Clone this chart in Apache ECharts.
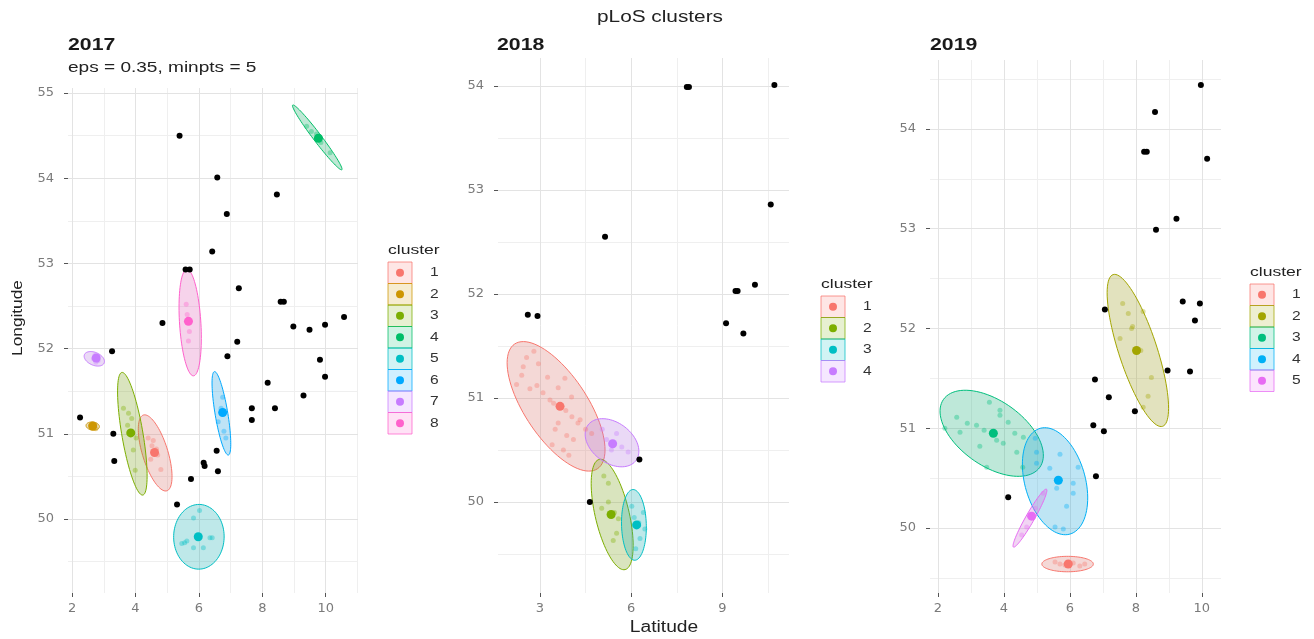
<!DOCTYPE html>
<html>
<head>
<meta charset="utf-8">
<title>pLoS clusters</title>
<script src="https://cdn.jsdelivr.net/npm/echarts@6/dist/echarts.min.js"></script>
<style>
  html, body { margin: 0; padding: 0; background: #ffffff; }
  #chart { width: 1314px; height: 639px; }
</style>
</head>
<body>
<div id="chart"></div>
<script>
// ---- data -------------------------------------------------------------
const years = ['2017', '2018', '2019'];
const subtitle2017 = 'eps = 0.35, minpts = 5';
const mainTitle = 'pLoS clusters';
const xTitle = 'Latitude';
const yTitle = 'Longitude';
const legendTitle = 'cluster';

const palette2017 = ['#F8766D', '#CD9600', '#7CAE00', '#00BE67', '#00BFC4', '#00A9FF', '#C77CFF', '#FF61CC'];
const palette2018 = ['#F8766D', '#7CAE00', '#00BFC4', '#C77CFF'];
const palette2019 = ['#F8766D', '#A3A500', '#00BF7D', '#00B0F6', '#E76BF3'];

const xTicks2017 = [2, 4, 6, 8, 10];
const yTicks2017 = [50, 51, 52, 53, 54, 55];
const xMinor2017 = [3, 5, 7, 9, 11];
const yMinor2017 = [49.5, 50.5, 51.5, 52.5, 53.5, 54.5];

const xTicks2018 = [3, 6, 9];
const yTicks2018 = [50, 51, 52, 53, 54];
const xMinor2018 = [4.5, 7.5, 10.5];
const yMinor2018 = [49.5, 50.5, 51.5, 52.5, 53.5];

const xTicks2019 = [2, 4, 6, 8, 10];
const yTicks2019 = [50, 51, 52, 53, 54];
const xMinor2019 = [3, 5, 7, 9];
const yMinor2019 = [49.5, 50.5, 51.5, 52.5, 53.5, 54.5];

// noise points [lat, lon]
const noise2017 = [
  [5.39, 54.50], [6.58, 54.01], [8.46, 53.81], [6.88, 53.58], [6.42, 53.14],
  [5.58, 52.93], [5.71, 52.93], [7.26, 52.71], [8.58, 52.55], [8.68, 52.55],
  [4.85, 52.30], [8.98, 52.26], [9.49, 52.22], [9.98, 52.28], [10.58, 52.37],
  [7.21, 52.08], [3.26, 51.97], [6.90, 51.91], [9.82, 51.87], [9.98, 51.67],
  [8.17, 51.60], [9.30, 51.45], [7.67, 51.30], [8.40, 51.30], [7.67, 51.16],
  [2.25, 51.19], [3.30, 51.00], [3.33, 50.68], [6.56, 50.80], [6.15, 50.66],
  [6.18, 50.62], [6.60, 50.56], [5.75, 50.47], [5.31, 50.17]
];
// cluster members [lat, lon, cluster]
const members2017 = [
  [4.56, 50.92, 1], [4.52, 50.86, 1], [4.70, 50.75, 1], [4.48, 50.70, 1], [4.80, 50.58, 1], [4.66, 50.82, 1], [4.40, 50.95, 1],
  [2.58, 51.10, 2], [2.68, 51.08, 2], [2.75, 51.06, 2], [2.62, 51.07, 2], [2.72, 51.11, 2],
  [3.62, 51.30, 3], [3.78, 51.24, 3], [3.88, 51.18, 3], [3.93, 50.81, 3], [3.99, 50.57, 3], [3.75, 51.10, 3], [4.02, 50.95, 3],
  [9.40, 54.61, 4], [9.71, 54.52, 4], [10.14, 54.30, 4], [9.55, 54.55, 4], [9.85, 54.42, 4],
  [6.02, 50.10, 5], [5.83, 50.01, 5], [5.46, 49.71, 5], [5.62, 49.74, 5], [5.83, 49.66, 5], [6.14, 49.66, 5], [6.35, 49.78, 5], [6.42, 49.78, 5], [5.55, 49.72, 5],
  [6.75, 51.43, 6], [6.61, 51.14, 6], [6.79, 51.03, 6], [6.70, 51.30, 6], [6.85, 50.95, 6],
  [2.72, 51.92, 7], [2.82, 51.86, 7], [2.68, 51.88, 7], [2.80, 51.90, 7], [2.75, 51.84, 7],
  [5.60, 52.52, 8], [5.67, 52.09, 8], [5.72, 52.32, 8], [5.63, 52.40, 8], [5.70, 52.20, 8]
];
// cluster centres [lat, lon, cluster]
const centers2017 = [
  [4.60, 50.78, 1], [2.65, 51.09, 2], [3.85, 51.01, 3], [9.77, 54.47, 4],
  [5.98, 49.79, 5], [6.75, 51.25, 6], [2.76, 51.89, 7], [5.67, 52.32, 8]
];
// ellipses [centre lat, centre lon, major-axis end lat, major-axis end lon, minor/major ratio, cluster]
const ellipses2017 = [
  [4.62, 50.775, 4.99, 50.33, 0.32, 1],
  [2.65, 51.09, 2.86, 51.08, 0.6, 2],
  [3.90, 51.00, 4.23, 50.28, 0.17, 3],
  [9.735, 54.48, 10.51, 54.10, 0.1, 4],
  [6.00, 49.79, 6.01, 50.17, 0.78, 5],
  [6.71, 51.24, 6.93, 50.75, 0.15, 6],
  [2.70, 51.88, 3.01, 51.83, 0.6, 7],
  [5.725, 52.305, 5.83, 51.68, 0.2, 8]
];

const noise2018 = [
  [7.83, 53.99], [7.90, 53.99], [10.71, 54.01], [10.59, 52.86], [5.14, 52.55],
  [9.43, 52.03], [9.50, 52.03], [10.07, 52.09], [2.60, 51.80], [2.92, 51.79],
  [9.12, 51.72], [9.69, 51.62], [6.27, 50.41], [4.64, 50.00]
];
const members2018 = [
  [2.23, 51.13, 1], [2.67, 51.09, 1], [3.82, 51.19, 1], [2.95, 51.33, 1], [2.56, 51.39, 1], [4.04, 51.01, 1],
  [3.60, 50.76, 1], [3.88, 50.64, 1], [3.77, 50.50, 1], [4.32, 50.79, 1], [3.33, 50.98, 1], [2.90, 51.12, 1],
  [3.10, 51.05, 1], [3.45, 50.95, 1], [3.85, 50.88, 1], [4.05, 50.82, 1], [4.25, 50.76, 1], [4.50, 50.70, 1],
  [4.70, 50.66, 1], [2.45, 51.30, 1], [3.50, 50.70, 1], [4.10, 50.60, 1], [3.25, 51.20, 1], [2.80, 51.45, 1],
  [3.95, 50.45, 1], [3.40, 50.55, 1], [2.40, 51.22, 1], [3.60, 51.10, 1],
  [5.25, 50.18, 2], [5.25, 50.00, 2], [5.03, 49.94, 2], [5.58, 49.84, 2], [5.52, 49.70, 2], [5.41, 49.63, 2], [5.10, 50.25, 2], [5.45, 49.90, 2],
  [6.02, 49.96, 3], [6.29, 49.65, 3], [6.45, 49.74, 3], [6.10, 49.85, 3], [6.25, 49.80, 3], [6.15, 49.55, 3], [6.40, 49.90, 3],
  [5.19, 50.60, 4], [5.69, 50.53, 4], [5.90, 50.48, 4], [5.52, 50.66, 4], [5.35, 50.50, 4], [5.05, 50.70, 4]
];
const centers2018 = [[3.66, 50.92, 1], [5.34, 49.88, 2], [6.18, 49.78, 3], [5.39, 50.56, 4]];
const ellipses2018 = [
  [3.53, 50.92, 4.89, 50.32, 0.42, 1],
  [5.375, 49.88, 5.80, 49.35, 0.3, 2],
  [6.09, 49.78, 6.12, 49.44, 0.35, 3],
  [5.37, 50.57, 6.16, 50.40, 0.68, 4]
];

const noise2019 = [
  [9.97, 54.44], [8.58, 54.17], [8.25, 53.77], [8.33, 53.77], [10.16, 53.70],
  [9.23, 53.10], [8.61, 52.99], [7.06, 52.19], [9.42, 52.27], [9.94, 52.25],
  [9.79, 52.08], [8.96, 51.58], [9.64, 51.57], [6.76, 51.49], [7.18, 51.31],
  [7.97, 51.17], [6.71, 51.03], [7.03, 50.97], [6.79, 50.52], [4.13, 50.31]
];
const members2019 = [
  [5.70, 49.64, 1], [6.30, 49.62, 1], [5.55, 49.66, 1], [6.10, 49.65, 1], [5.85, 49.63, 1], [6.45, 49.64, 1],
  [7.77, 52.15, 2], [8.22, 52.17, 2], [7.87, 52.00, 2], [7.52, 51.90, 2], [8.47, 51.51, 2],
  [8.37, 51.32, 2], [8.22, 51.21, 2], [7.90, 52.02, 2], [8.15, 51.78, 2], [7.60, 52.25, 2],
  [2.57, 51.11, 3], [2.89, 51.05, 3], [3.17, 51.03, 3], [2.67, 50.96, 3], [3.56, 51.26, 3], [3.88, 51.18, 3],
  [4.13, 51.06, 3], [4.33, 50.95, 3], [3.98, 50.85, 3], [3.78, 50.88, 3], [4.39, 50.76, 3], [3.27, 50.82, 3],
  [3.48, 50.61, 3], [4.57, 50.61, 3], [2.21, 51.00, 3], [4.59, 50.91, 3], [3.88, 51.13, 3], [3.40, 50.98, 3],
  [4.95, 50.90, 4], [4.99, 50.76, 4], [5.39, 50.60, 4], [5.70, 50.74, 4], [6.10, 50.45, 4], [6.10, 50.35, 4],
  [5.90, 50.22, 4], [5.55, 50.01, 4], [5.80, 49.99, 4], [6.25, 50.61, 4], [4.99, 50.65, 4], [5.60, 50.40, 4],
  [5.19, 50.35, 5], [4.69, 50.01, 5], [4.54, 49.93, 5], [4.95, 50.20, 5]
];
const centers2019 = [[5.95, 49.64, 1], [8.02, 51.78, 2], [3.68, 50.95, 3], [5.65, 50.48, 4], [4.84, 50.12, 5]];
const ellipses2019 = [
  [5.93, 49.64, 6.71, 49.64, 0.3, 1],
  [8.06, 51.78, 8.81, 51.02, 0.24, 2],
  [3.63, 50.95, 5.09, 50.61, 0.55, 3],
  [5.55, 50.47, 6.00, 49.94, 0.55, 4],
  [4.79, 50.10, 5.29, 50.39, 0.13, 5]
];

// ---- layout -----------------------------------------------------------
const FONT = '"Liberation Sans", Arial, sans-serif';
const TICK_FONT = '"DejaVu Sans", sans-serif';

const panels = [
  { year: years[0], palette: palette2017, noise: noise2017, members: members2017, centers: centers2017, ellipses: ellipses2017,
    xTicks: xTicks2017, yTicks: yTicks2017, xMinor: xMinor2017, yMinor: yMinor2017,
    grid: { left: 68, top: 88, width: 290, height: 505 }, xRange: [1.87, 11.02], yRange: [49.13, 55.06],
    xSplit: 5, ySplit: 6, titleX: 68, legend: { x: 388, y: 250 } },
  { year: years[1], palette: palette2018, noise: noise2018, members: members2018, centers: centers2018, ellipses: ellipses2018,
    xTicks: xTicks2018, yTicks: yTicks2018, xMinor: xMinor2018, yMinor: yMinor2018,
    grid: { left: 498, top: 58, width: 291, height: 535 }, xRange: [1.62, 11.19], yRange: [49.125, 54.27],
    xSplit: 3, ySplit: 5, titleX: 497, legend: { x: 821, y: 284 } },
  { year: years[2], palette: palette2019, noise: noise2019, members: members2019, centers: centers2019, ellipses: ellipses2019,
    xTicks: xTicks2019, yTicks: yTicks2019, xMinor: xMinor2019, yMinor: yMinor2019,
    grid: { left: 930, top: 60, width: 291, height: 533 }, xRange: [1.76, 10.58], yRange: [49.35, 54.69],
    xSplit: 5, ySplit: 5, titleX: 930, legend: { x: 1250, y: 272 } }
];

function rgba(hex, a) {
  const n = parseInt(hex.slice(1), 16);
  return 'rgba(' + ((n >> 16) & 255) + ',' + ((n >> 8) & 255) + ',' + (n & 255) + ',' + a + ')';
}

// confidence ellipse outline, built in pixel space from the centre and the end of its major axis
function ellipseRenderer(palette) {
  return function (params, api) {
    const c = api.coord([api.value(0), api.value(1)]);
    const t = api.coord([api.value(2), api.value(3)]);
    const ratio = api.value(4);
    const col = palette[api.value(5) - 1];
    const ux = t[0] - c[0], uy = t[1] - c[1];
    const vx = -uy * ratio, vy = ux * ratio;
    const pts = [];
    const n = 90;
    for (let k = 0; k < n; k++) {
      const a = (k / n) * Math.PI * 2;
      const ca = Math.cos(a), sa = Math.sin(a);
      pts.push([c[0] + ca * ux + sa * vx, c[1] + ca * uy + sa * vy]);
    }
    return {
      type: 'group',
      children: [
        { type: 'polygon', shape: { points: pts }, style: { fill: 'rgba(120,120,120,0.08)', stroke: null } },
        { type: 'polygon', shape: { points: pts }, style: { fill: rgba(col, 0.22), stroke: col, lineWidth: 1 } }
      ]
    };
  };
}

const grids = [], xAxes = [], yAxes = [], series = [], graphics = [];

panels.forEach(function (p, i) {
  grids.push({ left: p.grid.left, top: p.grid.top, width: p.grid.width, height: p.grid.height, containLabel: false });

  const majorLine = { show: true, lineStyle: { color: '#e3e3e3', width: 1 } };
  const minorLine = { show: true, lineStyle: { color: '#efefef', width: 1 } };
  const label = { color: '#7a7a7a', fontFamily: TICK_FONT, fontSize: 13 };

  xAxes.push({
    type: 'value', gridIndex: i, position: 'bottom', min: p.xRange[0], max: p.xRange[1], splitNumber: p.xSplit,
    axisLine: { show: false },
    axisTick: { show: true, length: 4, lineStyle: { color: '#555' }, customValues: p.xTicks },
    axisLabel: Object.assign({ margin: 9, customValues: p.xTicks }, label),
    splitLine: majorLine, z: 2
  });
  xAxes.push({
    type: 'value', gridIndex: i, position: 'top', min: p.xRange[0], max: p.xRange[1],
    axisLine: { show: false },
    axisTick: { show: false, customValues: p.xMinor },
    axisLabel: { show: false, customValues: p.xMinor },
    splitLine: minorLine, z: 1
  });
  yAxes.push({
    type: 'value', gridIndex: i, position: 'left', min: p.yRange[0], max: p.yRange[1], splitNumber: p.ySplit,
    axisLine: { show: false },
    axisTick: { show: true, length: 4, lineStyle: { color: '#555' }, customValues: p.yTicks },
    axisLabel: Object.assign({ margin: 14, customValues: p.yTicks }, label),
    splitLine: majorLine, z: 2
  });
  yAxes.push({
    type: 'value', gridIndex: i, position: 'right', min: p.yRange[0], max: p.yRange[1],
    axisLine: { show: false },
    axisTick: { show: false, customValues: p.yMinor },
    axisLabel: { show: false, customValues: p.yMinor },
    splitLine: minorLine, z: 1
  });

  const xi = 2 * i, yi = 2 * i;
  series.push({
    type: 'custom', name: 'ellipses ' + p.year, xAxisIndex: xi, yAxisIndex: yi,
    data: p.ellipses, renderItem: ellipseRenderer(p.palette), silent: true, z: 2
  });
  series.push({
    type: 'scatter', name: 'members ' + p.year, xAxisIndex: xi, yAxisIndex: yi, data: p.members,
    symbolSize: 5, silent: true, z: 3,
    itemStyle: { color: function (d) { return rgba(p.palette[d.value[2] - 1], 0.45); } }
  });
  series.push({
    type: 'scatter', name: 'noise ' + p.year, xAxisIndex: xi, yAxisIndex: yi, data: p.noise,
    symbolSize: 6, silent: true, z: 4, itemStyle: { color: '#000000', opacity: 1 }
  });
  series.push({
    type: 'scatter', name: 'centres ' + p.year, xAxisIndex: xi, yAxisIndex: yi, data: p.centers,
    symbolSize: 9, silent: true, z: 5,
    itemStyle: { color: function (d) { return p.palette[d.value[2] - 1]; }, opacity: 1 }
  });

  // panel heading
  graphics.push({
    type: 'text', x: p.titleX, y: 45, scaleX: 1.25,
    style: { text: p.year, font: 'bold 17px ' + FONT, fill: '#1a1a1a', textVerticalAlign: 'middle', textAlign: 'left' }
  });

  // legend: keys are drawn as a box with the cluster colour and a dot
  const keyW = 24, keyH = 21.5;
  const legendChildren = [{
    type: 'text', x: 0, y: 0, scaleX: 1.35,
    style: { text: legendTitle, font: '13px ' + FONT, fill: '#222', textVerticalAlign: 'middle', textAlign: 'left' }
  }];
  p.palette.forEach(function (col, k) {
    const top = 12 + k * keyH;
    legendChildren.push({
      type: 'rect', shape: { x: 0, y: top, width: keyW, height: keyH },
      style: { fill: rgba(col, 0.18), stroke: rgba(col, 0.75), lineWidth: 1 }
    });
    legendChildren.push({
      type: 'circle', shape: { cx: keyW / 2, cy: top + keyH / 2, r: 4 }, style: { fill: col }
    });
    legendChildren.push({
      type: 'text', x: 42, y: top + keyH / 2, scaleX: 1.3,
      style: { text: String(k + 1), font: '12px ' + FONT, fill: '#333', textVerticalAlign: 'middle', textAlign: 'left' }
    });
  });
  graphics.push({ type: 'group', x: p.legend.x, y: p.legend.y, children: legendChildren });
});

graphics.push({
  type: 'text', x: 660, y: 18, scaleX: 1.3,
  style: { text: mainTitle, font: '16px ' + FONT, fill: '#222', textAlign: 'center', textVerticalAlign: 'middle' }
});
graphics.push({
  type: 'text', x: 68, y: 68, scaleX: 1.36,
  style: { text: subtitle2017, font: '14px ' + FONT, fill: '#222', textAlign: 'left', textVerticalAlign: 'middle' }
});
graphics.push({
  type: 'text', x: 664, y: 628, scaleX: 1.2,
  style: { text: xTitle, font: '16px ' + FONT, fill: '#222', textAlign: 'center', textVerticalAlign: 'middle' }
});
graphics.push({
  type: 'text', x: 18, y: 318, rotation: Math.PI / 2, scaleX: 1.15,
  style: { text: yTitle, font: '15px ' + FONT, fill: '#222', textAlign: 'center', textVerticalAlign: 'middle' }
});

const chart = echarts.init(document.getElementById('chart'));
chart.setOption({
  animation: false,
  backgroundColor: '#ffffff',
  grid: grids,
  xAxis: xAxes,
  yAxis: yAxes,
  series: series,
  graphic: graphics
});
</script>
</body>
</html>
